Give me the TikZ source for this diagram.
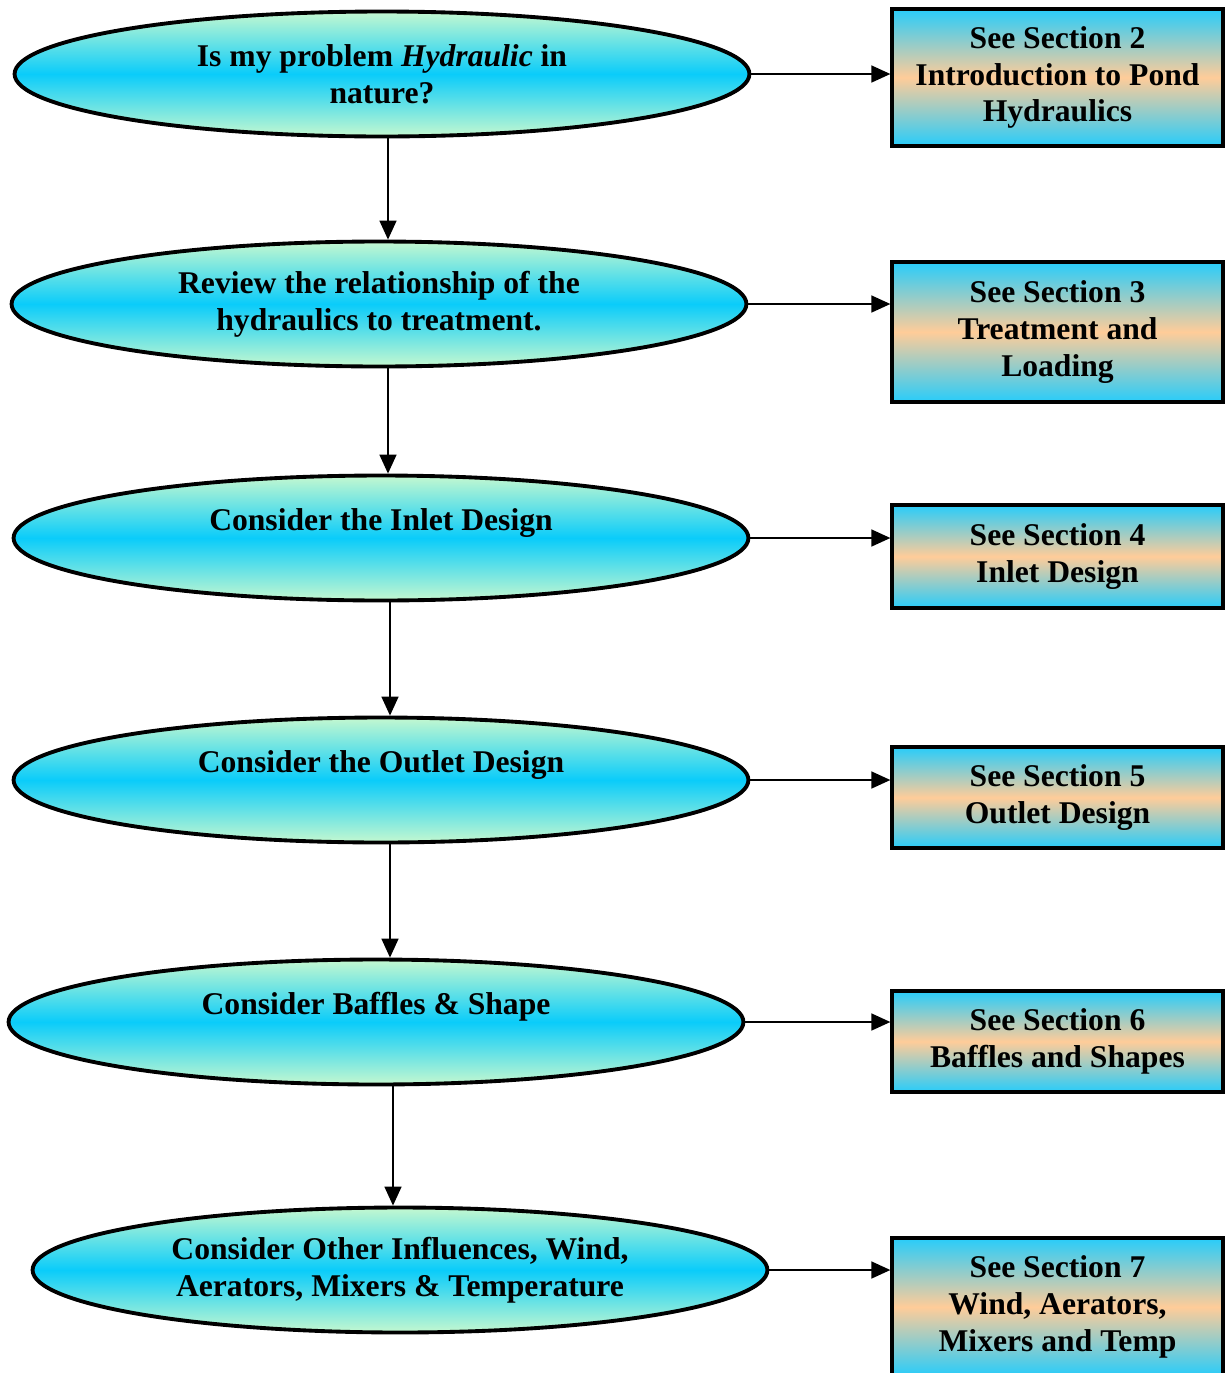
\documentclass[tikz,border=0pt]{standalone}
\usepackage{fontspec}
\setmainfont{Liberation Serif}
\usetikzlibrary{shapes.geometric,arrows.meta}

\definecolor{ellgreen}{RGB}{196,248,208}
\definecolor{ellcyan}{RGB}{10,204,250}
\definecolor{boxcyan}{RGB}{40,204,250}
\definecolor{boxpeach}{RGB}{255,204,153}

\tikzset{
    question/.style={ellipse,draw,line width=2.2pt,inner sep=0pt,
        minimum width=14.7cm,minimum height=2.5cm,align=center,
        top color=ellgreen,bottom color=ellgreen,middle color=ellcyan,
        font=\bfseries\fontsize{18}{21}\selectfont},
    seebox/.style={rectangle,draw,line width=1.9pt,inner sep=0pt,
        minimum width=6.62cm,align=center,
        top color=boxcyan,bottom color=boxcyan,middle color=boxpeach,
        font=\bfseries\fontsize{18}{21}\selectfont},
    link/.style={line width=0.9pt,-{Triangle[length=0.38cm,width=0.34cm]}}
}

\begin{document}
\begin{tikzpicture}[x=0.02cm,y=-0.02cm]
    \useasboundingbox (0,0) rectangle (1226,1373);

    % questions
    \node[question] (q1) at (382,74) {Is my problem \textit{Hydraulic} in\\nature?};
    \node[question] (q2) at (379,304) {Review the relationship of the\\hydraulics to treatment.};
    \node[question] (q3) at (381,538) {Consider the Inlet Design\\\mbox{}};
    \node[question] (q4) at (381,780) {Consider the Outlet Design\\\mbox{}};
    \node[question] (q5) at (376,1022) {Consider Baffles \& Shape\\\mbox{}};
    \node[question] (q6) at (400,1270) {Consider Other Influences, Wind,\\Aerators, Mixers \& Temperature};

    % sections
    \node[seebox,minimum height=2.74cm] (s2) at (1057.5,77.5) {See Section 2\\Introduction to Pond\\Hydraulics};
    \node[seebox,minimum height=2.80cm] (s3) at (1057.5,332) {See Section 3\\Treatment and\\Loading};
    \node[seebox,minimum height=2.06cm] (s4) at (1057.5,556.5) {See Section 4\\Inlet Design};
    \node[seebox,minimum height=2.02cm] (s5) at (1057.5,797.5) {See Section 5\\Outlet Design};
    \node[seebox,minimum height=2.02cm] (s6) at (1057.5,1041.5) {See Section 6\\Baffles and Shapes};
    \node[seebox,minimum height=2.76cm] (s7) at (1057.5,1307) {See Section 7\\Wind, Aerators,\\Mixers and Temp};

    % down the chain
    \draw[link]
    ([xshift=0.12cm]q1.south) -- ([xshift=0.12cm]q1.south |- q2.north)
    ;
    \draw[link]
    ([xshift=0.18cm]q2.south) -- ([xshift=0.18cm]q2.south |- q3.north)
    ;
    \draw[link]
    ([xshift=0.18cm]q3.south) -- ([xshift=0.18cm]q3.south |- q4.north)
    ;
    \draw[link]
    ([xshift=0.18cm]q4.south) -- ([xshift=0.18cm]q4.south |- q5.north)
    ;
    \draw[link]
    ([xshift=0.34cm]q5.south) -- ([xshift=0.34cm]q5.south |- q6.north)
    ;

    % across to the sections
    \draw[link]
    (q1.east) -- (q1.east -| s2.west)
    ;
    \draw[link]
    (q2.east) -- (q2.east -| s3.west)
    ;
    \draw[link]
    (q3.east) -- (q3.east -| s4.west)
    ;
    \draw[link]
    (q4.east) -- (q4.east -| s5.west)
    ;
    \draw[link]
    (q5.east) -- (q5.east -| s6.west)
    ;
    \draw[link]
    (q6.east) -- (q6.east -| s7.west)
    ;
\end{tikzpicture}
\end{document}
